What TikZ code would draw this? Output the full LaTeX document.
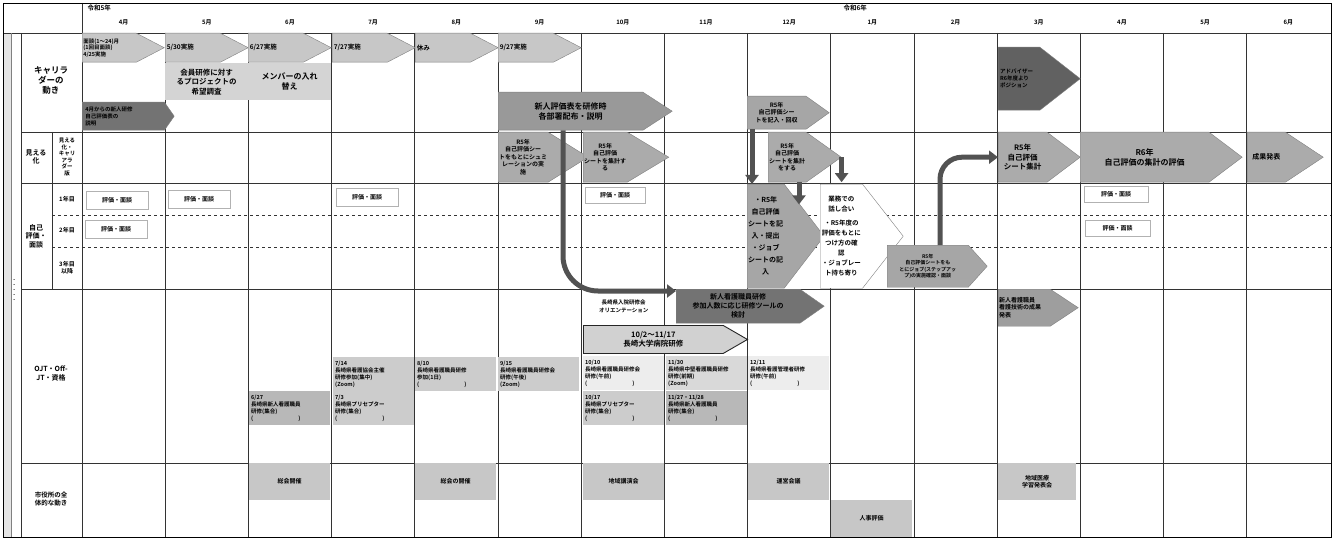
\documentclass[tikz,border=0pt]{standalone}
\usepackage{fontspec}
\setmainfont{Noto Sans CJK JP}[BoldFont={Noto Sans CJK JP Bold}]
\usetikzlibrary{shapes.symbols,arrows.meta}

\begin{document}
\begin{tikzpicture}[x=1pt, y=-1pt,
        grid/.style={draw=black!80, line width=0.9pt},
        flow/.style={signal, signal to=east, draw=black!50, fill=#1,
                     anchor=north west, inner sep=1pt, align=center,
                     font=\bfseries\fontsize{6.5}{8}\selectfont},
        flow/.default=black!22,
        memo/.style={draw=black!30, fill=white, anchor=north west,
                     minimum width=62pt, minimum height=18pt, inner sep=1pt,
                     font=\bfseries\fontsize{6}{7}\selectfont},
        event/.style={fill=#1, anchor=north west, minimum width=81pt,
                      minimum height=34pt, text width=77pt, inner sep=2pt,
                      align=left, font=\bfseries\fontsize{5.5}{7}\selectfont},
        event/.default=black!20,
        tag/.style={align=center, font=\bfseries\fontsize{8.5}{10}\selectfont},
        bigarrow/.style={line width=5pt, draw=black!68,
                         -{Triangle[length=9pt, width=13pt]}},
    ]
    \useasboundingbox (0,0) rectangle (1335,540);
    \fill[white] (0,0) rectangle (1335,540);

    % grid
    \fill[black!10] (4,33) rectangle (11,537);
    \draw[grid] (3,33) -- (1331,33);
    \draw[grid] (82,3) -- (82,537);
    \draw[grid] (21,33) -- (21,537);
    \draw[black!50, line width=0.5pt] (11,33) -- (11,537);
    \foreach \y in {132,183,289,463}
        \draw[grid] (21,\y) -- (1331,\y);
    \draw[grid] (52,132) -- (52,289);
    \foreach \y in {215,247}
        \draw[black!80, dashed, line width=0.7pt] (52,\y) -- (1331,\y);
    \foreach \i in {1,...,14}
        \draw[grid] ({82+83.2*\i},33) -- ({82+83.2*\i},537);
    \node[draw, line width=1.2pt, anchor=north west, inner sep=0pt,
          minimum width=1328pt, minimum height=534pt] (main) at (3,3) {};

    % header
    \node[font=\bfseries\fontsize{6.5}{8}\selectfont, anchor=west] (year5) at (84,8) {令和5年};
    \node[font=\bfseries\fontsize{6.5}{8}\selectfont, anchor=west] (year6) at (840,8) {令和6年};
    \foreach \m [count=\i from 0] in {4,5,6,7,8,9,10,11,12,1,2,3,4,5,6}
        \node[font=\bfseries\fontsize{6}{7}\selectfont] (month\i) at ({123.6+83.2*\i},22) {\m 月};
    \node[rotate=90, font=\fontsize{5}{6}\selectfont] (side) at (15,290) {・・・・・};

    % row labels
    \node[tag] (rowLadder) at (51,80) {キャリラ\\ダーの\\動き};
    \node[tag, font=\bfseries\fontsize{7}{8.5}\selectfont] (rowShow) at (36,157) {見える\\化};
    \node[tag, font=\bfseries\fontsize{5.5}{6.5}\selectfont] (rowShowSub) at (67,157) {見える\\化・\\キャリ\\アラ\\ダー\\版};
    \node[tag, font=\bfseries\fontsize{7}{8.5}\selectfont] (rowSelf) at (36,236) {自己\\評価・\\面談};
    \node[tag, font=\bfseries\fontsize{6}{7}\selectfont] (rowYear1) at (67,199) {1年目};
    \node[tag, font=\bfseries\fontsize{6}{7}\selectfont] (rowYear2) at (67,230) {2年目};
    \node[tag, font=\bfseries\fontsize{6}{7}\selectfont] (rowYear3) at (67,268) {3年目\\以降};
    \node[tag, font=\bfseries\fontsize{7}{9}\selectfont] (rowOjt) at (51,373) {OJT・Off-\\JT・資格};
    \node[tag, font=\bfseries\fontsize{6.5}{8}\selectfont] (rowCity) at (51,499) {市役所の全\\体的な動き};

    % career ladder row
    \node[flow, minimum width=82pt, minimum height=29pt, signal pointer angle=55,
          text width=52pt, align=left, font=\bfseries\fontsize{5.5}{6.5}\selectfont]
        (lad4) at (82,33) {面談(1～24)月\\(1回目面談)\\4/25実施};
    \node[flow, minimum width=83pt, minimum height=29pt, signal pointer angle=55,
          text width=52pt, align=left] (lad5) at (165,33) {5/30実施};
    \node[flow, minimum width=83pt, minimum height=29pt, signal pointer angle=55,
          text width=52pt, align=left] (lad6) at (248,33) {6/27実施};
    \node[flow, minimum width=83pt, minimum height=29pt, signal pointer angle=55,
          text width=52pt, align=left] (lad7) at (332,33) {7/27実施};
    \node[flow, minimum width=83pt, minimum height=29pt, signal pointer angle=55,
          text width=52pt, align=left] (lad8) at (415,33) {休み};
    \node[flow, minimum width=83pt, minimum height=29pt, signal pointer angle=55,
          text width=52pt, align=left] (lad9) at (498,33) {9/27実施};
    \node[event=black!17, minimum width=83pt, minimum height=37pt, text width=78pt,
          align=center, font=\bfseries\fontsize{7.5}{9.5}\selectfont]
        (survey) at (165,63) {会員研修に対す\\るプロジェクトの\\希望調査};
    \node[event=black!17, minimum width=83pt, minimum height=37pt, text width=78pt,
          align=center, font=\bfseries\fontsize{8}{10.5}\selectfont]
        (member) at (248,63) {メンバーの入れ\\替え};
    \node[flow=black!55, minimum width=92pt, minimum height=28pt, signal pointer angle=110,
          text width=76pt, align=left, font=\bfseries\fontsize{5.5}{7}\selectfont]
        (intro) at (82,102) {4月からの新人研修\\自己評価表の\\説明};
    \node[flow=black!40, minimum width=174pt, minimum height=38pt, signal pointer angle=66,
          font=\bfseries\fontsize{8}{10}\selectfont]
        (trainA) at (498,92) {新人評価表を研修時\\各部署配布・説明};
    \node[flow=black!35, minimum width=82pt, minimum height=33pt, signal pointer angle=71,
          font=\bfseries\fontsize{6}{7.5}\selectfont]
        (sheetR5) at (747,96) {R5年\\自己評価シー\\トを記入・回収};
    \node[flow=black!62, minimum width=82pt, minimum height=63pt, signal pointer angle=76,
          text width=38pt, align=left, font=\bfseries\fontsize{5.5}{7}\selectfont]
        (advisor) at (998,47) {アドバイザー\\R6年度より\\ポジション\\[14pt]};

    % visualisation row
    \node[flow=black!33, minimum width=82pt, minimum height=50pt, signal pointer angle=64,
          font=\bfseries\fontsize{6}{7.5}\selectfont]
        (simu) at (498,132) {R5年\\自己評価シー\\トをもとにシュミ\\レーションの実\\施};
    \node[flow=black!33, minimum width=80pt, minimum height=50pt, signal pointer angle=62,
          font=\bfseries\fontsize{6}{7.5}\selectfont]
        (tally10) at (583,132) {R5年\\自己評価\\シートを集計す\\る};
    \node[flow=black!33, minimum width=70pt, minimum height=50pt, signal pointer angle=71,
          font=\bfseries\fontsize{6}{7.5}\selectfont]
        (tally12) at (768,132) {R5年\\自己評価\\シートを集計\\をする};
    \node[flow=black!33, minimum width=82pt, minimum height=50pt, signal pointer angle=74,
          font=\bfseries\fontsize{7.5}{9.5}\selectfont]
        (sum6) at (998,132) {R5年\\自己評価\\シート集計};
    \node[flow=black!33, minimum width=162pt, minimum height=50pt, signal pointer angle=74,
          font=\bfseries\fontsize{8}{10}\selectfont]
        (eval6) at (1080,132) {R6年\\自己評価の集計の評価};
    \node[flow=black!33, minimum width=76pt, minimum height=50pt, signal pointer angle=67,
          font=\bfseries\fontsize{7}{9}\selectfont]
        (result) at (1247,132) {成果発表};

    % self evaluation row
    \node[memo] (memoA) at (86,191) {評価・面談};
    \node[memo] (memoB) at (168,190) {評価・面談};
    \node[memo] (memoC) at (336,188) {評価・面談};
    \node[memo] (memoD) at (85,220) {評価・面談};
    \node[memo, minimum width=60pt, minimum height=16pt] (memoE) at (585,187) {評価・面談};
    \node[memo, minimum width=64pt, minimum height=16pt] (memoF) at (1084,186) {評価・面談};
    \node[memo, minimum width=65pt, minimum height=16pt] (memoG) at (1085,220) {評価・面談};
    \node[flow=black!35, minimum width=73pt, minimum height=104pt, signal pointer angle=105,
          font=\bfseries\fontsize{7}{12}\selectfont]
        (entry) at (747,184) {・R5年\\自己評価\\シートを記\\入・提出\\・ジョブ\\シートの記\\入};
    \node[flow=white, minimum width=83pt, minimum height=104pt, signal pointer angle=104,
          font=\bfseries\fontsize{6.5}{10}\selectfont]
        (talk) at (820,184) {業務での\\話し合い\\[4pt]・R5年度の\\評価をもとに\\つけ方の確\\認\\・ジョブレー\\ト持ち寄り};
    \node[flow=black!35, minimum width=100pt, minimum height=42pt, signal pointer angle=96,
          font=\bfseries\fontsize{5}{6.5}\selectfont]
        (review) at (887,245) {R5年\\自己評価シートをも\\とにジョブ(ステップアッ\\プ)の実施確認・面談};

    % OJT row
    \node[event=white, minimum width=81pt, minimum height=32pt, text width=77pt,
          align=center, font=\bfseries\fontsize{5.5}{7.5}\selectfont]
        (orient) at (583,290) {長崎県入院研修会\\オリエンテーション};
    \node[flow=black!55, minimum width=148pt, minimum height=34pt, signal pointer angle=70,
          font=\bfseries\fontsize{7}{9}\selectfont]
        (toolB) at (676,289) {新人看護職員研修\\参加人数に応じ研修ツールの\\検討};
    \node[flow=black!18, draw=black!85, line width=0.9pt, minimum width=164pt,
          minimum height=28pt, signal pointer angle=60,
          font=\bfseries\fontsize{7.5}{9}\selectfont]
        (dispatch) at (583,325) {10/2～11/17\\長崎大学病院研修};
    \node[event=black!20] (sem7a) at (333,357) {7/14\\長崎県看護協会主催\\研修参加(集中)\\(Zoom)};
    \node[event=black!20] (sem8) at (415,357) {8/10\\長崎県看護職員研修\\参加(1日)\\(\hspace{45pt})};
    \node[event=black!20] (sem9) at (498,357) {9/15\\長崎県看護職員研修会\\研修(午後)\\(Zoom)};
    \node[event=black!7] (sem10a) at (583,356) {10/10\\長崎県看護職員研修会\\研修(午前)\\(\hspace{45pt})};
    \node[event=black!15] (sem11a) at (666,356) {11/30\\長崎県中堅看護職員研修\\研修(前期)\\(Zoom)};
    \node[event=black!7] (sem12) at (748,356) {12/11\\長崎県看護管理者研修\\研修(午前)\\(\hspace{45pt})};
    \node[event=black!28] (sem6) at (249,391) {6/27\\長崎県新人看護職員\\研修(集合)\\(\hspace{45pt})};
    \node[event=black!20] (sem7b) at (333,391) {7/3\\長崎県プリセプター\\研修(集合)\\(\hspace{45pt})};
    \node[event=black!20] (sem10b) at (583,391) {10/17\\長崎県プリセプター\\研修(集合)\\(\hspace{45pt})};
    \node[event=black!28] (sem11b) at (666,391) {11/27・11/28\\長崎県新人看護職員\\研修(集合)\\(\hspace{45pt})};
    \node[flow=black!38, minimum width=80pt, minimum height=37pt, signal pointer angle=67,
          text width=50pt, align=left, font=\bfseries\fontsize{6}{7.5}\selectfont]
        (present) at (998,289) {新人看護職員\\看護技術の成果\\発表};

    % city row
    \node[event=black!22, minimum height=37pt, align=center,
          font=\bfseries\fontsize{6}{7.5}\selectfont] (city6) at (249,463) {総会開催};
    \node[event=black!22, minimum height=37pt, align=center,
          font=\bfseries\fontsize{6}{7.5}\selectfont] (city8) at (415,463) {総会の開催};
    \node[event=black!22, minimum height=37pt, align=center,
          font=\bfseries\fontsize{6}{7.5}\selectfont] (city10) at (583,463) {地域講演会};
    \node[event=black!22, minimum height=37pt, align=center,
          font=\bfseries\fontsize{6}{7.5}\selectfont] (city12) at (748,463) {運営会議};
    \node[event=black!22, minimum height=37pt, align=center,
          font=\bfseries\fontsize{6}{7.5}\selectfont] (city1) at (831,500) {人事評価};
    \node[event=black!22, minimum width=78pt, text width=74pt, minimum height=37pt,
          align=center, font=\bfseries\fontsize{6}{7.5}\selectfont]
        (city3) at (998,463) {地域医療\\学習発表会};

    % thick arrows
    \draw[bigarrow, rounded corners=35pt] ([xshift=65pt]trainA.south west) |- ([yshift=-2pt]toolB.north west);
    \draw[bigarrow] ([xshift=5pt]sheetR5.south west) -- ([xshift=5pt]entry.north west);
    \draw[bigarrow] ([xshift=31pt]tally12.south west) -- ++(0,22);
    \draw[bigarrow] (tally12.east) -- ++(0,25);
    \draw[bigarrow, rounded corners=22pt] ([xshift=53pt]review.north west) |- (sum6.west);
\end{tikzpicture}
\end{document}
